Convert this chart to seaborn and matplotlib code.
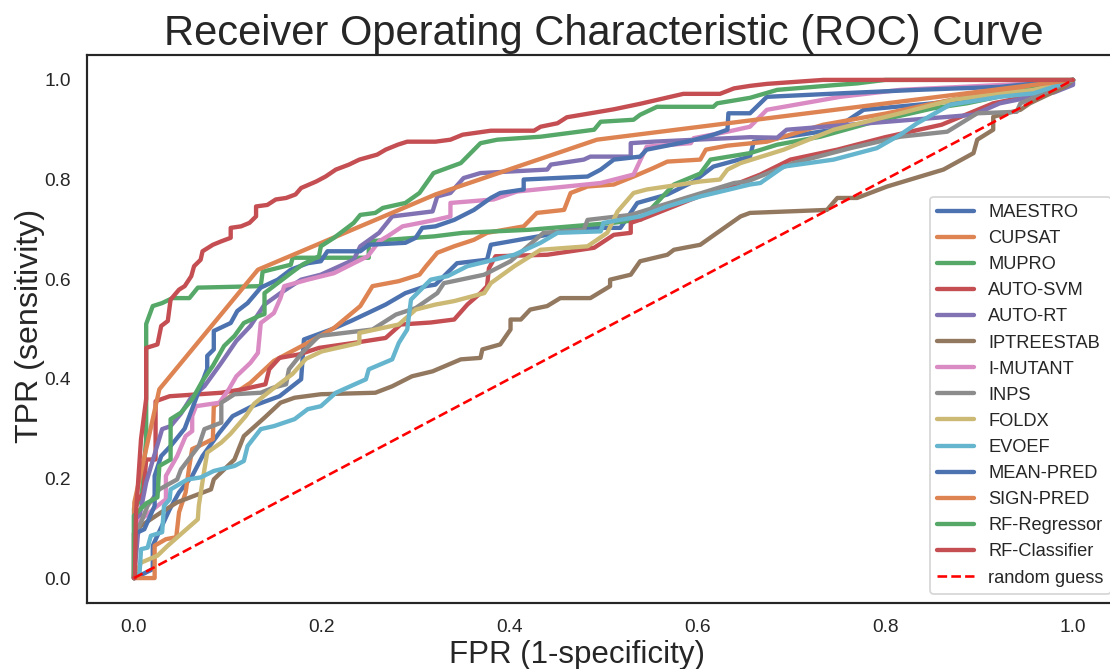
import matplotlib
matplotlib.use("Agg")
import matplotlib.pyplot as plt
import seaborn as sns

# ROC curves (false positive rate, true positive rate) for each predictor
maestro_fpr = [0, 0.001, 0.02, 0.02, 0.038, 0.048, 0.062, 0.073, 0.091, 0.105, 0.126, 0.155, 0.178, 0.181,
               0.21, 0.231, 0.249, 0.268, 0.289, 0.311, 0.321, 0.344, 0.376, 0.38, 0.44, 0.468, 0.518, 0.536,
               0.568, 0.596, 0.617, 0.656, 0.66, 0.745, 0.777, 0.851, 0.958, 1.0]
maestro_tpr = [0, 0.0, 0.018, 0.065, 0.138, 0.172, 0.205, 0.245, 0.292, 0.325, 0.345, 0.365, 0.399, 0.479,
               0.499, 0.516, 0.532, 0.549, 0.572, 0.586, 0.589, 0.632, 0.639, 0.669, 0.689, 0.703, 0.703, 0.753,
               0.770, 0.796, 0.826, 0.846, 0.876, 0.900, 0.940, 0.953, 0.980, 1.0]

cupsat_fpr = [0, 0.022, 0.022, 0.034, 0.045, 0.048, 0.055, 0.059, 0.062, 0.069, 0.084, 0.085, 0.098, 0.124,
              0.149, 0.185, 0.213, 0.241, 0.254, 0.282, 0.304, 0.311, 0.323, 0.341, 0.362, 0.376, 0.415, 0.429,
              0.458, 0.465, 0.483, 0.511, 0.532, 0.553, 0.568, 0.603, 0.609, 0.632, 0.674, 0.734, 0.802, 0.880,
              0.958, 1.0]
cupsat_tpr = [0, 0.0, 0.065, 0.078, 0.082, 0.132, 0.172, 0.225, 0.259, 0.265, 0.279, 0.345, 0.359, 0.392,
              0.436, 0.472, 0.502, 0.546, 0.586, 0.596, 0.609, 0.626, 0.653, 0.666, 0.679, 0.693, 0.706, 0.733,
              0.739, 0.773, 0.786, 0.790, 0.806, 0.823, 0.836, 0.840, 0.860, 0.868, 0.876, 0.910, 0.933, 0.964,
              0.984, 1.0]

mupro_fpr = [0, 0.0, 0.008, 0.013, 0.013, 0.02, 0.03, 0.041, 0.059, 0.068, 0.135, 0.137, 0.167, 0.169, 0.25,
             0.25, 0.32, 0.35, 0.42, 0.51, 0.54, 0.575, 0.603, 0.614, 0.656, 0.685, 0.731, 0.788, 0.851, 0.887,
             0.93, 1.0]
mupro_tpr = [0, 0.14, 0.16, 0.28, 0.51, 0.546, 0.552, 0.562, 0.562, 0.583, 0.586, 0.615, 0.629, 0.643, 0.643,
             0.676, 0.686, 0.693, 0.699, 0.713, 0.72, 0.79, 0.812, 0.84, 0.853, 0.87, 0.886, 0.916, 0.943, 0.953,
             0.97, 1.0]

autosvm_fpr = [0, 0.001, 0.01, 0.013, 0.023, 0.023, 0.038, 0.093, 0.116, 0.14, 0.144, 0.155, 0.176, 0.197,
               0.234, 0.268, 0.284, 0.316, 0.341, 0.355, 0.369, 0.376, 0.378, 0.385, 0.44, 0.49, 0.511, 0.529,
               0.529, 0.54, 0.56, 0.6, 0.64, 0.667, 0.699, 0.749, 0.8, 0.86, 0.915, 0.96, 1.0]
autosvm_tpr = [0, 0.15, 0.17, 0.238, 0.238, 0.355, 0.365, 0.372, 0.379, 0.389, 0.419, 0.442, 0.449, 0.462,
               0.472, 0.482, 0.509, 0.513, 0.519, 0.549, 0.572, 0.586, 0.622, 0.646, 0.649, 0.663, 0.689, 0.693,
               0.713, 0.72, 0.735, 0.765, 0.79, 0.81, 0.84, 0.86, 0.885, 0.91, 0.953, 0.97, 1.0]

autort_fpr = [0, 0.006, 0.013, 0.03, 0.039, 0.05, 0.06, 0.075, 0.093, 0.109, 0.124, 0.139, 0.156, 0.178, 0.199,
              0.234, 0.241, 0.261, 0.275, 0.318, 0.323, 0.337, 0.351, 0.369, 0.44, 0.444, 0.479, 0.486, 0.529,
              0.529, 0.553, 0.656, 0.685, 0.695, 0.802, 0.894, 0.922, 0.98, 1.0, 1.0]
autort_tpr = [0, 0.125, 0.192, 0.299, 0.305, 0.33, 0.36, 0.385, 0.432, 0.476, 0.506, 0.549, 0.572, 0.599, 0.609,
              0.639, 0.666, 0.693, 0.726, 0.736, 0.766, 0.773, 0.803, 0.813, 0.820, 0.830, 0.840, 0.846, 0.846,
              0.873, 0.876, 0.885, 0.884, 0.900, 0.916, 0.930, 0.953, 0.975, 0.99, 1.0]

iptree_fpr = [0, 0.0, 0.0075, 0.029, 0.046, 0.064, 0.082, 0.085, 0.107, 0.117, 0.139, 0.156, 0.171, 0.199, 0.257,
              0.275, 0.296, 0.318, 0.348, 0.369, 0.371, 0.39, 0.401, 0.401, 0.412, 0.422, 0.44, 0.454, 0.486,
              0.507, 0.507, 0.529, 0.539, 0.568, 0.575, 0.603, 0.621, 0.646, 0.656, 0.738, 0.749, 0.77, 0.802,
              0.862, 0.894, 0.898, 0.915, 0.915, 0.944, 0.954, 0.993, 1.0]
iptree_tpr = [0, 0.09, 0.105, 0.132, 0.152, 0.165, 0.178, 0.198, 0.238, 0.285, 0.322, 0.352, 0.362, 0.369, 0.372,
              0.385, 0.405, 0.415, 0.439, 0.442, 0.459, 0.469, 0.499, 0.519, 0.519, 0.539, 0.546, 0.562, 0.562,
              0.586, 0.599, 0.609, 0.636, 0.649, 0.659, 0.669, 0.693, 0.726, 0.733, 0.739, 0.763, 0.763, 0.786,
              0.820, 0.853, 0.880, 0.900, 0.926, 0.940, 0.953, 0.988, 1.0]

imutant_fpr = [0, 0.0, 0.006, 0.025, 0.034, 0.034, 0.046, 0.055, 0.062, 0.062, 0.066, 0.091, 0.101, 0.109,
               0.124, 0.132, 0.135, 0.149, 0.156, 0.16, 0.185, 0.213, 0.234, 0.249, 0.261, 0.27, 0.286, 0.321,
               0.337, 0.337, 0.383, 0.408, 0.497, 0.532, 0.546, 0.593, 0.596, 0.632, 0.656, 0.674, 0.752, 0.816,
               0.958, 1.0]
imutant_tpr = [0, 0.09, 0.115, 0.145, 0.158, 0.205, 0.245, 0.285, 0.295, 0.325, 0.345, 0.352, 0.379, 0.405,
               0.432, 0.452, 0.512, 0.532, 0.562, 0.586, 0.599, 0.612, 0.632, 0.646, 0.676, 0.686, 0.706, 0.719,
               0.726, 0.753, 0.760, 0.776, 0.793, 0.810, 0.866, 0.873, 0.883, 0.896, 0.906, 0.940, 0.966, 0.980,
               0.993, 1.0]

inps_fpr = [0, 0.002, 0.0075, 0.0145, 0.027, 0.046, 0.05, 0.069, 0.075, 0.093, 0.093, 0.107, 0.135, 0.148,
            0.162, 0.165, 0.179, 0.197, 0.254, 0.279, 0.3, 0.323, 0.33, 0.373, 0.401, 0.436, 0.479, 0.483, 0.529,
            0.582, 0.639, 0.653, 0.702, 0.763, 0.816, 0.866, 0.898, 0.94, 0.944, 0.972, 1.0]
inps_tpr = [0, 0.092, 0.112, 0.145, 0.178, 0.198, 0.218, 0.265, 0.299, 0.312, 0.352, 0.369, 0.372, 0.382,
            0.389, 0.419, 0.452, 0.486, 0.499, 0.529, 0.542, 0.572, 0.592, 0.609, 0.636, 0.693, 0.699, 0.719,
            0.729, 0.760, 0.793, 0.796, 0.833, 0.863, 0.886, 0.896, 0.933, 0.936, 0.953, 0.976, 1.0]

foldx_fpr = [0, 0.0075, 0.025, 0.036, 0.048, 0.068, 0.069, 0.075, 0.078, 0.093, 0.103, 0.119, 0.128, 0.148,
             0.169, 0.183, 0.2, 0.24, 0.24, 0.282, 0.3, 0.321, 0.341, 0.373, 0.38, 0.405, 0.433, 0.483, 0.504,
             0.515, 0.532, 0.546, 0.603, 0.624, 0.632, 0.646, 0.692, 0.745, 0.816, 0.872, 0.958, 1.0]
foldx_tpr = [0, 0.031, 0.045, 0.065, 0.085, 0.118, 0.145, 0.218, 0.252, 0.272, 0.29, 0.325, 0.35, 0.38, 0.41,
             0.44, 0.455, 0.472, 0.492, 0.509, 0.539, 0.549, 0.556, 0.572, 0.592, 0.626, 0.659, 0.666, 0.693,
             0.736, 0.773, 0.780, 0.796, 0.800, 0.820, 0.833, 0.860, 0.900, 0.933, 0.960, 0.980, 1.0]

evoef_fpr = [0, 0.006, 0.0075, 0.0145, 0.018, 0.03, 0.032, 0.038, 0.039, 0.057, 0.071, 0.085, 0.107, 0.117,
             0.121, 0.135, 0.149, 0.171, 0.185, 0.199, 0.215, 0.247, 0.25, 0.275, 0.282, 0.291, 0.295, 0.316,
             0.334, 0.355, 0.405, 0.433, 0.451, 0.497, 0.5, 0.539, 0.568, 0.603, 0.656, 0.667, 0.692, 0.745,
             0.791, 0.816, 0.834, 0.869, 0.922, 0.958, 0.979, 1.0]
evoef_tpr = [0, 0.011, 0.058, 0.061, 0.085, 0.092, 0.145, 0.158, 0.178, 0.198, 0.202, 0.215, 0.225, 0.235,
             0.265, 0.299, 0.305, 0.319, 0.339, 0.345, 0.372, 0.399, 0.419, 0.439, 0.472, 0.499, 0.559, 0.599,
             0.606, 0.626, 0.649, 0.673, 0.693, 0.696, 0.713, 0.726, 0.746, 0.766, 0.790, 0.793, 0.826, 0.840,
             0.863, 0.890, 0.913, 0.950, 0.966, 0.973, 0.986, 1.0]

meanpred_fpr = [0, 0.002, 0.011, 0.022, 0.022, 0.029, 0.039, 0.054, 0.06, 0.07, 0.078, 0.078, 0.085, 0.085,
                0.103, 0.11, 0.121, 0.135, 0.153, 0.167, 0.185, 0.199, 0.206, 0.241, 0.25, 0.289, 0.3, 0.307,
                0.321, 0.341, 0.362, 0.38, 0.39, 0.415, 0.415, 0.483, 0.497, 0.511, 0.539, 0.546, 0.589, 0.617,
                0.632, 0.633, 0.656, 0.674, 0.752, 0.834, 0.922, 1.0]
meanpred_tpr = [0, 0.09, 0.098, 0.145, 0.205, 0.245, 0.265, 0.30, 0.33, 0.38, 0.42, 0.446, 0.459, 0.496,
                0.512, 0.536, 0.552, 0.583, 0.599, 0.619, 0.632, 0.636, 0.656, 0.656, 0.669, 0.673, 0.683, 0.703,
                0.706, 0.719, 0.739, 0.763, 0.773, 0.780, 0.800, 0.806, 0.820, 0.840, 0.846, 0.860, 0.876, 0.890,
                0.900, 0.933, 0.933, 0.966, 0.973, 0.980, 0.986, 1.0]

signpred_fpr = [0, 0.0004, 0.027, 0.132, 0.321, 0.493, 1.0]
signpred_tpr = [0, 0.152, 0.379, 0.619, 0.770, 0.880, 1.0]

rfreg_fpr = [0, 0.0, 0.013, 0.025, 0.027, 0.039, 0.039, 0.05, 0.062, 0.073, 0.084, 0.096, 0.107, 0.117, 0.133,
             0.139, 0.139, 0.153, 0.167, 0.18, 0.197, 0.199, 0.213, 0.234, 0.241, 0.257, 0.265, 0.289, 0.304,
             0.319, 0.348, 0.369, 0.387, 0.433, 0.49, 0.497, 0.532, 0.539, 0.557, 0.617, 0.621, 0.656, 0.685,
             0.749, 0.77, 0.8, 1.0]
rfreg_tpr = [0, 0.125, 0.15, 0.162, 0.225, 0.238, 0.319, 0.332, 0.359, 0.396, 0.426, 0.466, 0.486, 0.512, 0.526,
             0.53, 0.572, 0.592, 0.612, 0.63, 0.646, 0.666, 0.683, 0.713, 0.729, 0.733, 0.743, 0.753, 0.773,
             0.813, 0.833, 0.873, 0.88, 0.886, 0.9, 0.916, 0.92, 0.93, 0.946, 0.946, 0.953, 0.964, 0.98, 0.99,
             0.993, 1.0, 1.0]

rfclf_fpr = [0, 0.001, 0.002, 0.0075, 0.013, 0.013, 0.025, 0.029, 0.036, 0.039, 0.048, 0.054, 0.061, 0.064,
             0.071, 0.073, 0.084, 0.093, 0.103, 0.103, 0.114, 0.123, 0.130, 0.130, 0.142, 0.151, 0.162, 0.172,
             0.178, 0.194, 0.204, 0.215, 0.229, 0.240, 0.259, 0.268, 0.281, 0.291, 0.321, 0.337, 0.350, 0.380,
             0.426, 0.433, 0.451, 0.461, 0.483, 0.511, 0.539, 0.585, 0.624, 0.639, 0.656, 0.674, 0.734, 1.0]
rfclf_tpr = [0, 0.0, 0.125, 0.279, 0.36, 0.462, 0.469, 0.506, 0.516, 0.559, 0.579, 0.586, 0.606, 0.626, 0.639,
             0.656, 0.669, 0.676, 0.683, 0.703, 0.706, 0.713, 0.726, 0.746, 0.749, 0.760, 0.763, 0.770, 0.783,
             0.796, 0.806, 0.820, 0.830, 0.840, 0.850, 0.860, 0.870, 0.876, 0.876, 0.880, 0.890, 0.898, 0.898,
             0.906, 0.913, 0.925, 0.932, 0.941, 0.952, 0.972, 0.972, 0.983, 0.988, 0.992, 1.0, 1.0]

names = ["MAESTRO", "CUPSAT", "MUPRO", "AUTO-SVM", "AUTO-RT", "IPTREESTAB", "I-MUTANT", "INPS",
         "FOLDX", "EVOEF", "MEAN-PRED", "SIGN-PRED", "RF-Regressor", "RF-Classifier"]
curves = [
    (maestro_fpr, maestro_tpr), (cupsat_fpr, cupsat_tpr), (mupro_fpr, mupro_tpr),
    (autosvm_fpr, autosvm_tpr), (autort_fpr, autort_tpr), (iptree_fpr, iptree_tpr),
    (imutant_fpr, imutant_tpr), (inps_fpr, inps_tpr), (foldx_fpr, foldx_tpr),
    (evoef_fpr, evoef_tpr), (meanpred_fpr, meanpred_tpr), (signpred_fpr, signpred_tpr),
    (rfreg_fpr, rfreg_tpr), (rfclf_fpr, rfclf_tpr),
]
diag = [0, 1]

sns.set_theme(style="white")
plt.rcParams["font.family"] = ["Liberation Sans", "DejaVu Sans"]

palette = sns.color_palette("deep", 10)
fig = plt.figure(figsize=(8.88, 5.352), dpi=125)
ax = fig.add_axes([0.0784, 0.0987, 0.9306, 0.8191])

for i, (name, (fpr, tpr)) in enumerate(zip(names, curves)):
    sns.lineplot(x=fpr, y=tpr, ax=ax, color=palette[i % 10], linewidth=2.5,
                 estimator=None, sort=False, label=name)

ax.plot(diag, diag, linestyle="--", color="#ff0000", linewidth=1.5, label="random guess")

ax.set_xticks([0.0, 0.2, 0.4, 0.6, 0.8, 1.0])
ax.set_yticks([0.0, 0.2, 0.4, 0.6, 0.8, 1.0])
ax.tick_params(labelsize=11)
ax.set_xlabel("FPR (1-specificity)", fontsize=18)
ax.set_ylabel("TPR (sensitivity)", fontsize=18.5)
ax.xaxis.set_label_coords(0.474, -0.067)
ax.yaxis.set_label_coords(-0.041, 0.505)
ax.set_title("Receiver Operating Characteristic (ROC) Curve", fontsize=24)
ax.legend(loc="lower right", fontsize=10.5)

fig.savefig("out.png", dpi=125)
